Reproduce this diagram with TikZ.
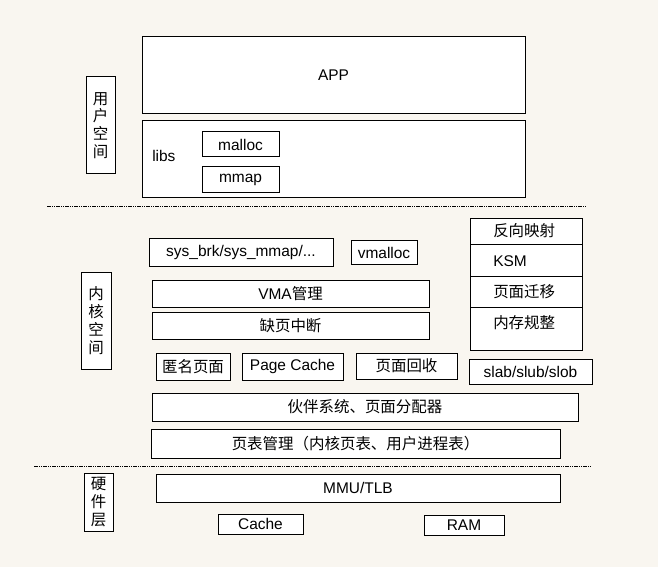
\documentclass[tikz,border=0pt]{standalone}
\usepackage{fontspec}
\setmainfont{Liberation Sans}
\newfontfamily\cjk{Noto Sans CJK SC}
\definecolor{bgc}{RGB}{249,246,240}
\newcommand\mybox[7][]{\node[bx, minimum width={(#5-#3)*0.75pt}, minimum height={(#6-#4)*0.75pt}, #1] (#2) at ({(#3+#5)/2},{(#4+#6)/2}) {#7};}
\begin{document}
\begin{tikzpicture}[x=0.75pt,y=-0.75pt,
  bx/.style={draw, fill=white, line width=0.75pt, inner sep=0pt, font=\fontsize{11.6pt}{14pt}\selectfont},
  vlab/.style={align=center, font=\fontsize{11.6pt}{13.4pt}\selectfont\cjk},
  lbl/.style={inner sep=0pt, anchor=west, font=\fontsize{11.6pt}{14pt}\selectfont},
  sep/.style={line width=0.75pt, dash pattern=on 3pt off 0.75pt on 0.75pt off 0.75pt on 0.75pt off 0.75pt}]
\fill[bgc] (0,0) rectangle (658,567);
\useasboundingbox (0,0) rectangle (658,567);
% user space
\mybox{app}{142}{37}{525}{114}{APP}
\mybox{libs}{142}{121}{525}{198}{}
\node[lbl] (libst) at (152,156) {libs};
\mybox{malloc}{202}{132}{279}{157}{malloc}
\mybox{mmap}{202}{167}{279}{193}{mmap}
\mybox[vlab]{user}{86}{77}{115}{174}{用\\户\\空\\间}
\draw[sep] (47,207) -- (587,207);
% kernel space
\mybox[vlab]{kern}{81}{272}{111}{369}{内\\核\\空\\间}
\mybox{sys}{149}{239}{333}{266}{sys\_brk/sys\_mmap/...}
\mybox{vmalloc}{351}{241}{417}{264}{vmalloc}
\mybox{vma}{152}{280}{429}{307}{VMA{\cjk 管理}}
\mybox{fault}{152}{312}{429}{339}{{\cjk 缺页中断}}
\mybox{anon}{156}{353}{230}{380}{{\cjk 匿名页面}}
\mybox{pcache}{242}{353}{343}{380}{Page Cache}
\mybox{reclaim}{356}{353}{457}{379}{{\cjk 页面回收}}
\mybox{r1}{470}{219}{582}{245}{}
\mybox{r2}{470}{245}{582}{276}{}
\mybox{r3}{470}{276}{582}{307}{}
\mybox{r4}{470}{307}{582}{350}{}
\node[lbl] (t1) at (493,231) {\cjk 反向映射};
\node[lbl] (t2) at (493,261) {KSM};
\node[lbl] (t3) at (493,292) {\cjk 页面迁移};
\node[lbl] (t4) at (493,323) {\cjk 内存规整};
\mybox{slab}{469}{359}{592}{384}{slab/slub/slob}
\mybox{buddy}{152}{393}{578}{421}{{\cjk 伙伴系统、页面分配器}}
\mybox{pt}{151}{429}{560}{458}{{\cjk 页表管理（内核页表、用户进程表）}}
\draw[sep] (34,466) -- (592,466);
% hardware
\mybox[vlab]{hw}{84}{473}{113}{531}{硬\\件\\层}
\mybox{mmu}{156}{474}{560}{502}{MMU/TLB}
\mybox{cache}{218}{514}{303}{534}{Cache}
\mybox{ram}{424}{515}{504}{535}{RAM}
\end{tikzpicture}
\end{document}
